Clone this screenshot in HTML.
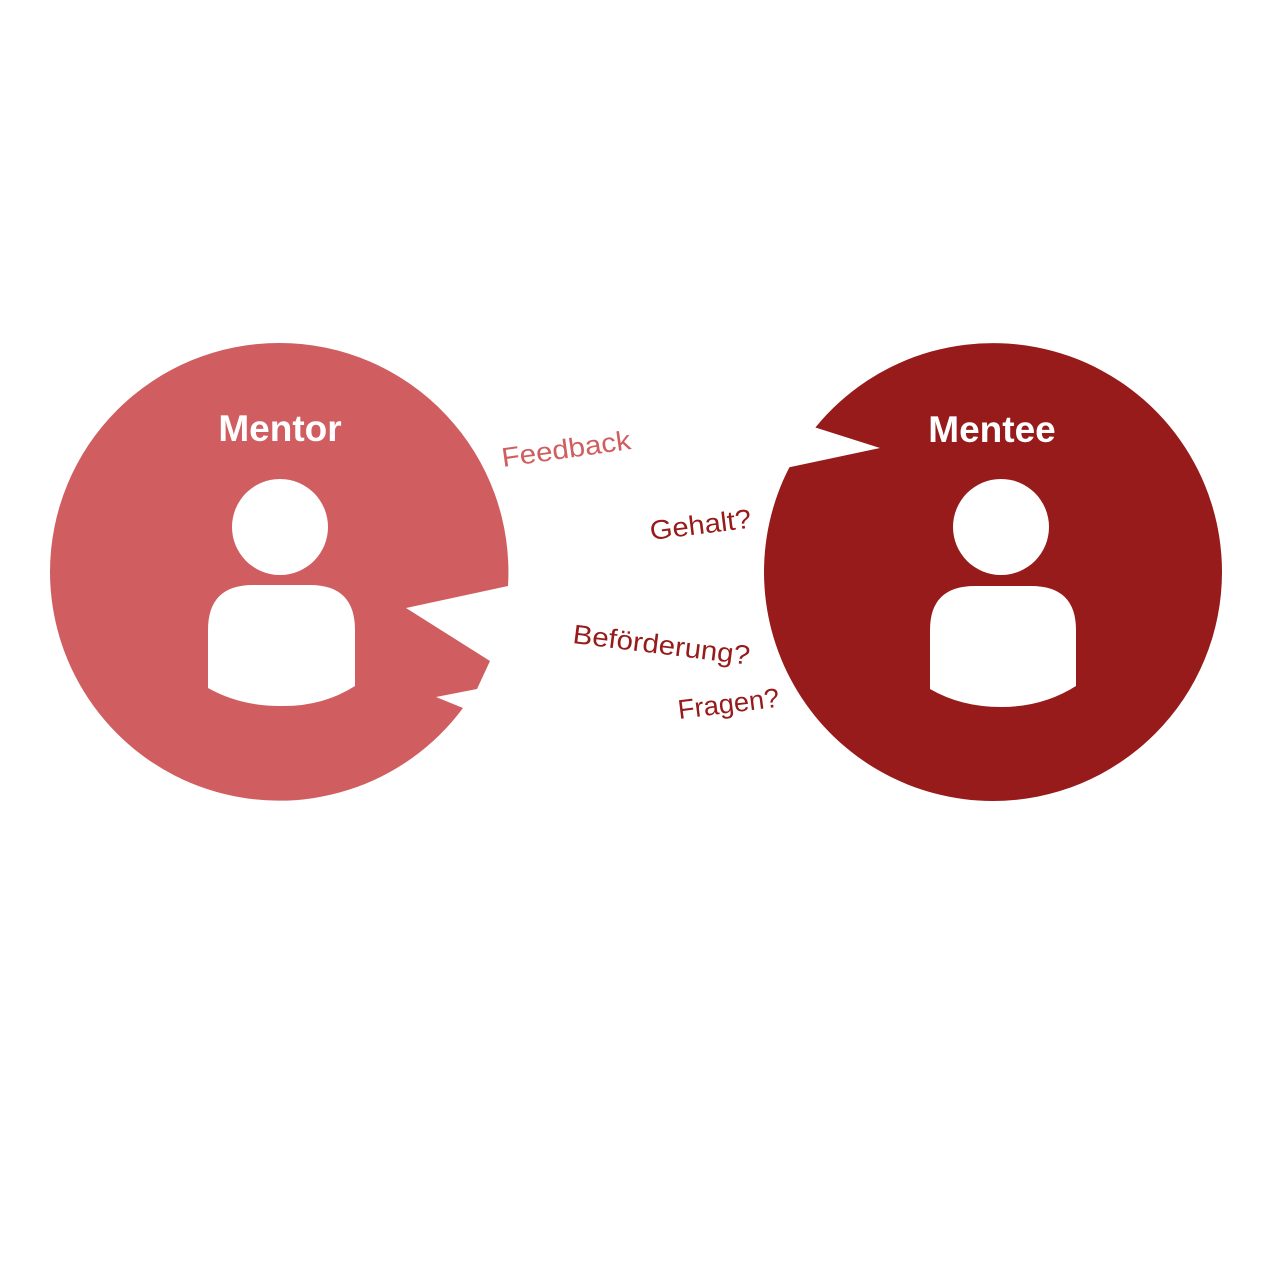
<!DOCTYPE html>
<html><head><meta charset="utf-8"><style>html,body{margin:0;padding:0;background:#fff}svg{display:block}</style></head>
<body>
<svg width="1280" height="1280" viewBox="0 0 1280 1280" xmlns="http://www.w3.org/2000/svg">
<path d="M508,586 L406,608 L490,661 L477,689 L436,697 L463,708 A229 229 0 0 1 50,572 A229 229 0 0 1 279,343 A229 229 0 0 1 508,586 Z" fill="#d05e61"/>
<path d="M789.4,467.2 L880,448 L815.4,427.5 A229 229 0 0 1 1222,572 A229 229 0 0 1 993,801 A229 229 0 0 1 789.4,467.2 Z" fill="#961b1a"/>
<g fill="#fff">
<circle cx="280" cy="527" r="48"/>
<path d="M208,688 L208,630 Q208,585 253,585 L310,585 Q355,585 355,630 L355,686 Q322,707 280,706 Q240,706 208,688 Z"/>
<circle cx="1001" cy="527" r="48"/>
<path d="M930,689 L930,630 Q930,586 975,586 L1031,586 Q1076,586 1076,630 L1076,686 Q1043,707 1001,707 Q961,707 930,689 Z"/>
</g>
<g font-family="Liberation Sans, sans-serif" font-weight="bold" font-size="37" fill="#fff" text-anchor="middle">
<text x="280" y="441">Mentor</text>
<text x="992" y="442">Mentee</text>
</g>
<g font-family="Liberation Sans, sans-serif" font-size="27">
<text x="503" y="467" fill="#d05e61" textLength="130" lengthAdjust="spacingAndGlyphs" transform="rotate(-8 503 467)">Feedback</text>
<text x="651" y="540" fill="#961b1a" textLength="102" lengthAdjust="spacingAndGlyphs" transform="rotate(-7 651 540)">Gehalt?</text>
<text x="572" y="643" fill="#961b1a" textLength="178" lengthAdjust="spacingAndGlyphs" transform="rotate(7 572 643)">Beförderung?</text>
<text x="679" y="719" fill="#961b1a" textLength="102" lengthAdjust="spacingAndGlyphs" transform="rotate(-7 679 719)">Fragen?</text>
</g>
</svg>
</body></html>
